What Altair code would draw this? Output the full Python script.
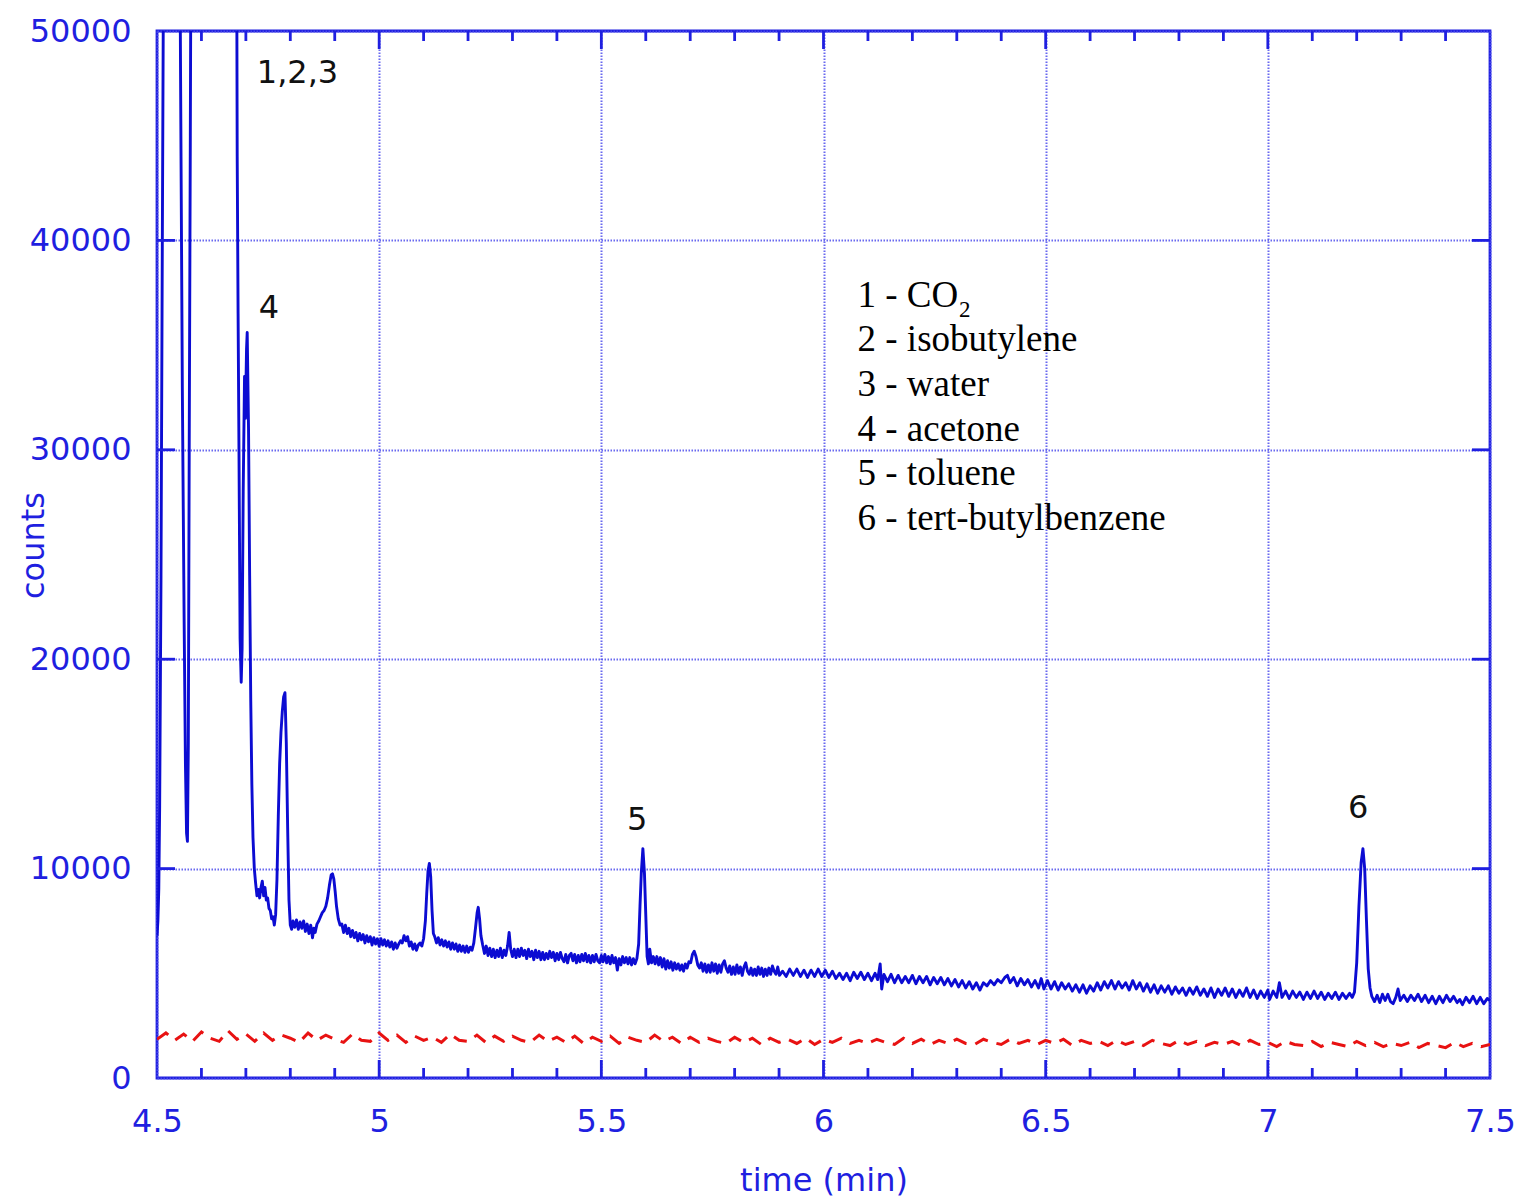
import altair as alt
import pandas as pd

# ---------------- data ----------------
x_tick_values = [4.5, 5, 5.5, 6, 6.5, 7, 7.5]
y_tick_values = [0, 10000, 20000, 30000, 40000, 50000]
x_major_inner = [5.0, 5.5, 6.0, 6.5, 7.0]
x_minor = [4.6, 4.7, 4.8, 4.9, 5.1, 5.2, 5.3, 5.4, 5.6, 5.7, 5.8, 5.9,
           6.1, 6.2, 6.3, 6.4, 6.6, 6.7, 6.8, 6.9, 7.1, 7.2, 7.3, 7.4]
y_major_inner = [10000, 20000, 30000, 40000]

# blue trace (time in min, counts); values above 50000 are off-scale
blue_early = [
    (4.500, 6800), (4.502, 7500), (4.504, 9000), (4.506, 13000), (4.509, 24000),
    (4.512, 40000), (4.515, 55000), (4.517, 65000),
    (4.549, 65000), (4.553, 48000), (4.557, 33000), (4.561, 22000), (4.564, 15000),
    (4.5665, 11700), (4.5685, 11300), (4.5705, 16000), (4.5725, 30000), (4.575, 45000),
    (4.578, 65000),
    (4.678, 65000), (4.6805, 44000), (4.6825, 36500), (4.6845, 30000), (4.687, 21000),
    (4.6895, 18900), (4.6915, 20500), (4.694, 28000), (4.697, 33500), (4.699, 31500),
    (4.7015, 34800), (4.703, 35600), (4.706, 31000), (4.7085, 24000), (4.711, 18000),
    (4.7135, 14000), (4.716, 11500), (4.719, 10000), (4.722, 9300), (4.725, 8700),
    (4.728, 9000), (4.731, 8600), (4.734, 9100), (4.737, 9400), (4.740, 8700),
    (4.743, 9100), (4.746, 8500), (4.749, 8600), (4.752, 8100), (4.755, 8000),
    (4.758, 7600), (4.761, 7700), (4.764, 7300), (4.767, 7800), (4.770, 9500),
    (4.773, 12500), (4.776, 15000), (4.779, 16500), (4.782, 17500), (4.785, 18200),
    (4.788, 18400), (4.791, 16000), (4.794, 12000), (4.797, 8500), (4.800, 7300),
    (4.803, 7100),
]

blue_seg_a = [
    (4.806, 7500), (4.810, 7200), (4.814, 7550), (4.818, 7100), (4.822, 7450),
    (4.826, 7150), (4.830, 7500), (4.834, 7000), (4.838, 7350), (4.842, 6900),
    (4.846, 7300), (4.850, 6700), (4.853, 7150), (4.856, 6950), (4.860, 7350),
    (4.864, 7500), (4.868, 7700), (4.872, 7900), (4.876, 8000), (4.880, 8200),
    (4.884, 8600), (4.888, 9200), (4.892, 9700), (4.895, 9750), (4.898, 9500),
    (4.901, 8900), (4.904, 8200), (4.908, 7600), (4.912, 7300), (4.916, 7350),
    (4.920, 6950), (4.924, 7300), (4.928, 6900), (4.932, 7150), (4.936, 6750),
    (4.940, 7050), (4.944, 6700), (4.948, 6950), (4.952, 6550), (4.956, 6900),
    (4.960, 6600), (4.964, 6850), (4.968, 6450), (4.972, 6800), (4.976, 6500),
    (4.980, 6750), (4.984, 6350), (4.988, 6700), (4.992, 6400), (4.996, 6650),
    (5.000, 6300), (5.004, 6650), (5.008, 6350), (5.012, 6600), (5.016, 6300),
    (5.020, 6550), (5.024, 6250), (5.028, 6500), (5.032, 6150), (5.036, 6450),
    (5.040, 6200), (5.044, 6400), (5.048, 6550), (5.052, 6450), (5.056, 6800),
    (5.060, 6550), (5.064, 6750), (5.068, 6300), (5.072, 6500), (5.076, 6150),
    (5.080, 6400), (5.084, 6100), (5.088, 6350), (5.092, 6450), (5.096, 6300),
    (5.100, 6650), (5.104, 7500), (5.107, 8800), (5.110, 9900), (5.113, 10250),
    (5.116, 9600), (5.119, 8000), (5.122, 6900), (5.125, 6750), (5.129, 6450),
    (5.133, 6700), (5.137, 6350), (5.141, 6600), (5.145, 6300), (5.149, 6550),
    (5.153, 6250), (5.157, 6500), (5.161, 6150), (5.165, 6450), (5.169, 6150),
    (5.173, 6400), (5.177, 6050), (5.181, 6350), (5.185, 6050), (5.189, 6300),
    (5.193, 6000), (5.197, 6300), (5.201, 6000), (5.205, 6250), (5.209, 6100),
    (5.213, 6450), (5.217, 7200), (5.2205, 7900), (5.223, 8150), (5.226, 7600),
    (5.229, 6800), (5.233, 6350), (5.237, 5950), (5.241, 6300), (5.245, 5850),
    (5.249, 6200), (5.253, 5800), (5.257, 6150), (5.261, 5750), (5.265, 6100),
    (5.269, 5800), (5.273, 6200), (5.277, 5750), (5.281, 6100), (5.285, 5850),
    (5.289, 6300), (5.2925, 6950), (5.296, 6150), (5.300, 5800),
]

blue_seg_b = [
    (5.304, 6150), (5.308, 5750), (5.312, 6150), (5.316, 5800), (5.320, 6200),
    (5.324, 5850), (5.328, 6100), (5.332, 5700), (5.336, 6150), (5.340, 5800),
    (5.344, 6050), (5.348, 5650), (5.352, 6100), (5.356, 5750), (5.360, 6050),
    (5.364, 5650), (5.368, 6000), (5.372, 5650), (5.376, 5950), (5.380, 5700),
    (5.384, 6050), (5.388, 5750), (5.392, 6000), (5.396, 5600), (5.400, 5950),
    (5.404, 5650), (5.408, 6000), (5.412, 5700), (5.416, 5550), (5.420, 5900),
    (5.424, 5500), (5.428, 5850), (5.432, 5950), (5.436, 5600), (5.440, 5900),
    (5.444, 5500), (5.448, 5850), (5.452, 5550), (5.456, 5900), (5.460, 5600),
    (5.464, 5950), (5.468, 5550), (5.472, 5850), (5.476, 5500), (5.480, 5850),
    (5.484, 5550), (5.488, 5900), (5.492, 5600), (5.496, 5500), (5.500, 5850),
    (5.504, 5550), (5.508, 5900), (5.512, 5500), (5.516, 5800), (5.520, 5450),
    (5.524, 5850), (5.528, 5500), (5.532, 5750), (5.536, 5150), (5.540, 5700),
    (5.544, 5400), (5.548, 5800), (5.552, 5500), (5.556, 5750), (5.560, 5450),
    (5.564, 5750), (5.568, 5400), (5.572, 5700), (5.576, 5450), (5.580, 5700),
    (5.584, 6400), (5.587, 8200), (5.590, 9800), (5.5935, 10950), (5.597, 9800),
    (5.600, 7800), (5.603, 5800), (5.606, 5450), (5.609, 6150), (5.613, 5500),
    (5.617, 5800), (5.621, 5450), (5.625, 5800), (5.629, 5400), (5.633, 5750),
    (5.637, 5300), (5.641, 5700), (5.645, 5200), (5.649, 5600), (5.653, 5250),
    (5.657, 5550), (5.661, 5150), (5.665, 5500), (5.669, 5200), (5.673, 5450),
    (5.677, 5150), (5.681, 5400), (5.685, 5100), (5.689, 5450), (5.693, 5250),
    (5.697, 5550), (5.701, 5500), (5.705, 5900), (5.709, 6050), (5.713, 5800),
    (5.717, 5400), (5.721, 5250), (5.725, 5500), (5.729, 5100), (5.733, 5450),
    (5.737, 5050), (5.741, 5400), (5.745, 5050), (5.749, 5500), (5.753, 5100),
    (5.757, 5450), (5.761, 5000), (5.765, 5400), (5.769, 5050), (5.773, 5450),
    (5.777, 5600), (5.781, 5250), (5.785, 5050), (5.789, 5350), (5.793, 4950),
    (5.797, 5300), (5.801, 4950), (5.805, 5400), (5.809, 5000), (5.813, 5300),
    (5.817, 4900), (5.821, 5300), (5.825, 5500), (5.829, 5100), (5.833, 4950),
    (5.837, 5250), (5.841, 4900), (5.845, 5200), (5.849, 4900), (5.853, 5300),
    (5.857, 4950), (5.861, 5250), (5.865, 4850), (5.869, 5200), (5.873, 4900),
    (5.877, 5250), (5.881, 4950), (5.885, 5350), (5.889, 5100), (5.893, 4950),
    (5.897, 5300), (5.901, 4900),
]

blue_seg_c = [
    (5.908, 5100), (5.916, 4850), (5.924, 5200), (5.932, 4900), (5.940, 5200),
    (5.948, 4850), (5.956, 5150), (5.964, 4800), (5.972, 5150), (5.980, 4850),
    (5.988, 5200), (5.996, 4850), (6.004, 5150), (6.012, 4800), (6.020, 5100),
    (6.028, 4750), (6.036, 5000), (6.044, 4700), (6.052, 5000), (6.060, 4650),
    (6.068, 5050), (6.076, 4750), (6.084, 5050), (6.092, 4700), (6.100, 5000),
    (6.108, 4650), (6.116, 5000), (6.122, 4700), (6.1275, 5450), (6.131, 4250),
    (6.136, 4950), (6.144, 4600), (6.152, 4950), (6.160, 4550), (6.168, 4900),
    (6.176, 4550), (6.184, 4850), (6.192, 4550), (6.200, 4900), (6.208, 4500),
    (6.216, 4850), (6.224, 4550), (6.232, 4850), (6.240, 4450), (6.248, 4800),
    (6.256, 4500), (6.264, 4800), (6.272, 4450), (6.280, 4750), (6.288, 4400),
    (6.296, 4700), (6.304, 4350), (6.312, 4650), (6.320, 4300), (6.328, 4600),
    (6.336, 4250), (6.344, 4550), (6.352, 4200), (6.360, 4550), (6.368, 4400),
    (6.376, 4650), (6.384, 4450), (6.392, 4700), (6.400, 4550), (6.408, 4800),
    (6.414, 4900), (6.420, 4550), (6.428, 4800), (6.436, 4400), (6.444, 4750),
    (6.452, 4450), (6.460, 4700), (6.468, 4350), (6.476, 4650), (6.484, 4300),
    (6.490, 4750), (6.496, 4250), (6.504, 4650), (6.512, 4250), (6.520, 4600),
    (6.528, 4200), (6.536, 4550), (6.544, 4250), (6.552, 4500), (6.560, 4150),
    (6.568, 4450), (6.576, 4100), (6.584, 4450), (6.592, 4050), (6.600, 4400),
]

blue_seg_d = [
    (6.608, 4150), (6.616, 4550), (6.624, 4200), (6.632, 4600), (6.640, 4300),
    (6.648, 4650), (6.656, 4250), (6.664, 4600), (6.672, 4300), (6.680, 4550),
    (6.688, 4200), (6.696, 4650), (6.704, 4250), (6.712, 4550), (6.720, 4150),
    (6.728, 4500), (6.736, 4100), (6.744, 4450), (6.752, 4050), (6.760, 4400),
    (6.768, 4100), (6.776, 4400), (6.784, 4000), (6.792, 4350), (6.800, 4050),
    (6.808, 4300), (6.816, 3950), (6.824, 4300), (6.832, 4000), (6.840, 4350),
    (6.848, 3950), (6.856, 4250), (6.864, 3900), (6.872, 4300), (6.880, 3850),
    (6.888, 4250), (6.896, 3950), (6.904, 4300), (6.912, 3900), (6.920, 4250),
    (6.928, 3850), (6.936, 4200), (6.944, 3900), (6.952, 4300), (6.960, 3850),
    (6.968, 4200), (6.976, 3800), (6.984, 4150), (6.992, 3850), (7.000, 4200),
    (7.004, 3750), (7.012, 4150), (7.020, 3850), (7.026, 4550), (7.032, 3850),
    (7.040, 4150), (7.048, 3800), (7.056, 4150), (7.064, 3850), (7.072, 4100),
    (7.080, 3750), (7.088, 4100), (7.096, 3800), (7.104, 4150), (7.112, 3800),
    (7.120, 4100), (7.128, 3750), (7.136, 4050), (7.144, 3800), (7.152, 4100),
    (7.160, 3750), (7.168, 4050), (7.176, 3800), (7.184, 4050), (7.190, 3850),
    (7.195, 4100), (7.200, 5500), (7.205, 8200), (7.210, 10300), (7.214, 10950),
    (7.218, 10000), (7.222, 7500), (7.226, 5200), (7.230, 4300), (7.234, 3900),
    (7.240, 3650), (7.246, 3950), (7.252, 3600), (7.258, 4000), (7.264, 3700),
    (7.270, 4000), (7.276, 3650), (7.282, 3550), (7.288, 3850), (7.293, 4250),
    (7.298, 3700), (7.306, 3950), (7.314, 3650), (7.322, 3950), (7.330, 3700),
    (7.338, 4000), (7.346, 3650), (7.354, 3950), (7.362, 3600), (7.370, 3900),
    (7.378, 3550), (7.386, 3900), (7.394, 3600), (7.402, 3950), (7.410, 3650),
    (7.418, 3900), (7.426, 3600), (7.432, 3750), (7.438, 3500), (7.446, 3850),
    (7.454, 3600), (7.462, 3900), (7.470, 3550), (7.478, 3850), (7.486, 3550),
    (7.494, 3800), (7.500, 3700),
]

# red dashed trace, sampled every 0.02 min
red_counts = [
    1850, 2150, 1800, 2100, 1750, 2200, 1900, 1750, 2250, 1850,
    2100, 1750, 2150, 1800, 2050, 1900, 1700, 2150, 1800, 2050,
    1850, 1700, 2100, 1800, 1750, 2150, 1800, 2050, 1700, 2000,
    1800, 1950, 1700, 2100, 1800, 1750, 2050, 1700, 2000, 1750,
    2000, 1800, 1700, 2050, 1750, 1950, 1700, 2000, 1650, 1950,
    1750, 2000, 1650, 1950, 1800, 1700, 2050, 1750, 1950, 1650,
    1950, 1700, 1900, 1750, 1650, 1950, 1700, 1900, 1600, 1900,
    1700, 1850, 1650, 1900, 1600, 1850, 1700, 1900, 1650, 1800,
    1650, 1850, 1700, 1600, 1900, 1650, 1850, 1600, 1800, 1650,
    1850, 1650, 1600, 1850, 1700, 1600, 1850, 1650, 1800, 1600,
    1800, 1650, 1850, 1550, 1800, 1650, 1750, 1550, 1800, 1600,
    1750, 1550, 1800, 1650, 1550, 1800, 1600, 1750, 1550, 1700,
    1600, 1750, 1550, 1800, 1600, 1700, 1500, 1750, 1600, 1550,
    1750, 1500, 1700, 1600, 1500, 1750, 1550, 1700, 1500, 1650,
    1550, 1700, 1450, 1650, 1550, 1450, 1700, 1500, 1650, 1500,
    1600,
]
red_times = [round(4.5 + 0.02 * i, 2) for i in range(len(red_counts))]

peak_labels = ["1,2,3", "4", "5", "6"]
peak_label_t = [4.8162, 4.7521, 5.5804, 7.2031]
peak_label_c = [47517, 36294, 11843, 12416]

legend_lines = ["1 - CO", "2 - isobutylene", "3 - water", "4 - acetone",
                "5 - toluene", "6 - tert-butylbenzene"]
legend_c = [36834, 34704, 32574, 30444, 28314, 26184]
legend_t = 6.0766
subscript_text = ["2"]
subscript_t = [6.3051]
subscript_c = [36342]

# ---------------- styling ----------------
BLUE_LINE = "#0c0cd2"
BLUE_AXIS = "#1f1fe0"
GRID = "#4f4fec"
RED = "#e81212"
SANS = "DejaVu Sans"
SERIF = "Liberation Serif"
W, H = 1333, 1047

blue_pts = blue_early + blue_seg_a + blue_seg_b + blue_seg_c + blue_seg_d
df_blue = pd.DataFrame(blue_pts, columns=["t", "c"])
df_red = pd.DataFrame({"t": red_times, "c": red_counts})

x_axis = alt.Axis(
    values=x_tick_values, format="~g", title="time (min)",
    grid=True, gridColor=GRID, gridDash=[1.5, 1.5], gridWidth=2, gridOpacity=0.85,
    ticks=False, domain=False, labelFlush=False,
    labelFont=SANS, labelFontSize=32, labelColor=BLUE_AXIS, labelPadding=28,
    labelOverlap=False,
    titleFont=SANS, titleFontSize=32, titleColor=BLUE_AXIS, titleFontWeight="normal",
    titleY=112, titleBaseline="alphabetic",
)
y_axis = alt.Axis(
    values=y_tick_values, format="d", title="counts",
    grid=True, gridColor=GRID, gridDash=[1.5, 1.5], gridWidth=2, gridOpacity=0.85,
    ticks=False, domain=False, labelFlush=False,
    labelFont=SANS, labelFontSize=32, labelColor=BLUE_AXIS, labelPadding=26,
    labelOverlap=False,
    titleFont=SANS, titleFontSize=32, titleColor=BLUE_AXIS, titleFontWeight="normal",
    titleX=-114, titleY=514, titleAngle=270, titleBaseline="alphabetic", titleAlign="center",
)
X = alt.X("t:Q", scale=alt.Scale(domain=[4.5, 7.5], nice=False, zero=False), axis=x_axis)
Y = alt.Y("c:Q", scale=alt.Scale(domain=[0, 50000], nice=False, zero=False), axis=y_axis)

blue_line = alt.Chart(df_blue).mark_line(
    color=BLUE_LINE, strokeWidth=2.9, clip=True, strokeJoin="round"
).encode(x=X, y=Y)

red_line = alt.Chart(df_red).mark_line(
    color=RED, strokeWidth=3, clip=True, strokeDash=[14, 9]
).encode(x=X, y=Y)

df_minor = pd.DataFrame({"t": x_minor})
df_major = pd.DataFrame({"t": x_major_inner})
df_ymaj = pd.DataFrame({"c": y_major_inner})

tick_style = dict(color=BLUE_AXIS, strokeWidth=2.8)
minor_bottom = alt.Chart(df_minor).mark_rule(**tick_style).encode(
    x=X, y=alt.value(H), y2=alt.value(H - 10))
minor_top = alt.Chart(df_minor).mark_rule(**tick_style).encode(
    x=X, y=alt.value(0), y2=alt.value(10))
major_bottom = alt.Chart(df_major).mark_rule(**tick_style).encode(
    x=X, y=alt.value(H), y2=alt.value(H - 18))
major_top = alt.Chart(df_major).mark_rule(**tick_style).encode(
    x=X, y=alt.value(0), y2=alt.value(18))
ymaj_left = alt.Chart(df_ymaj).mark_rule(**tick_style).encode(
    y=Y, x=alt.value(0), x2=alt.value(18))
ymaj_right = alt.Chart(df_ymaj).mark_rule(**tick_style).encode(
    y=Y, x=alt.value(W), x2=alt.value(W - 18))

df_peaks = pd.DataFrame({"t": peak_label_t, "c": peak_label_c, "label": peak_labels})
peak_text = alt.Chart(df_peaks).mark_text(
    font=SANS, fontSize=32, color="#111111", align="center", baseline="alphabetic"
).encode(x=X, y=Y, text="label:N")

df_legend = pd.DataFrame({"t": [legend_t] * len(legend_lines), "c": legend_c,
                          "label": legend_lines})
legend_text = alt.Chart(df_legend).mark_text(
    font=SERIF, fontSize=37, color="black", align="left", baseline="alphabetic"
).encode(x=X, y=Y, text="label:N")

df_sub = pd.DataFrame({"t": subscript_t, "c": subscript_c, "label": subscript_text})
sub_text = alt.Chart(df_sub).mark_text(
    font=SERIF, fontSize=23, color="black", align="left", baseline="alphabetic"
).encode(x=X, y=Y, text="label:N")

chart = alt.layer(
    red_line, blue_line,
    minor_bottom, minor_top, major_bottom, major_top, ymaj_left, ymaj_right,
    peak_text, legend_text, sub_text,
).properties(
    width=W, height=H,
    autosize=alt.AutoSizeParams(type="none"),
    padding={"left": 157, "top": 31, "right": 29, "bottom": 121},
    background="white",
).configure_view(
    stroke=BLUE_AXIS, strokeWidth=2.8
)

chart.save("out.html", embed_options={"renderer": "svg", "actions": False})
